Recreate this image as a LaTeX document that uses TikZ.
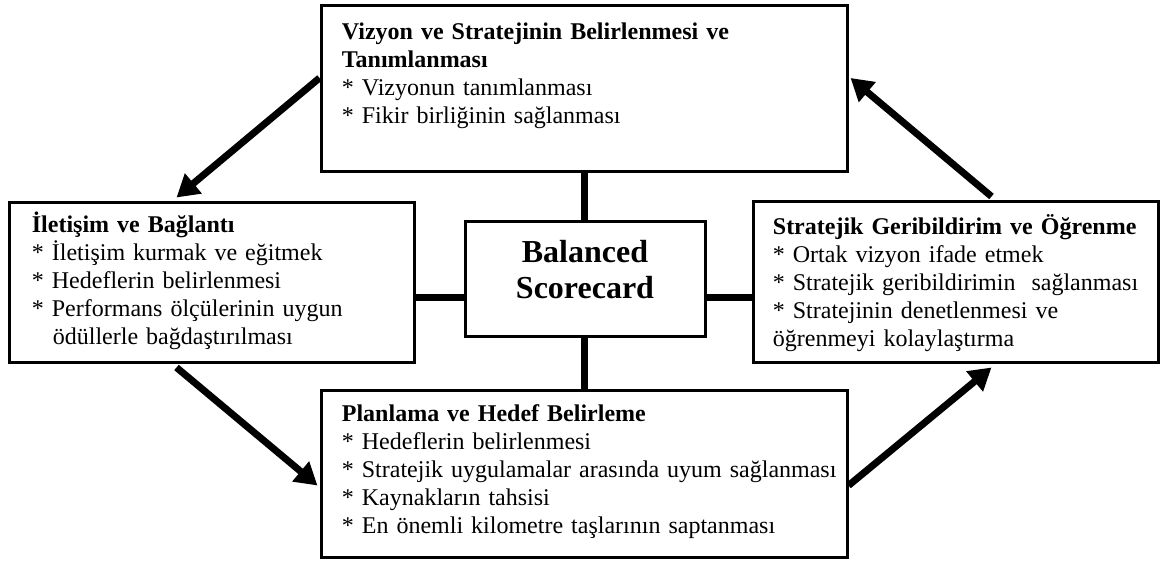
\documentclass[tikz,border=0pt]{standalone}
\usepackage{fontspec}
\setmainfont{Liberation Serif}
\usetikzlibrary{calc,arrows.meta}
\begin{document}
\begin{tikzpicture}[x=0.5pt,y=-0.5pt,
  box/.style={draw,line width=1.5pt,rectangle,inner sep=0pt},
  body/.style={anchor=base west,inner sep=0pt,align=left,
    font=\fontsize{12}{14}\selectfont},
  link/.style={line width=3.5pt},
  flow/.style={line width=3.5pt,-{Triangle[length=11pt,width=12.5pt]}}]
\useasboundingbox[fill=white] (0,0) rectangle (1161,561);

% the five boxes
\node[box,minimum width=263pt,minimum height=83pt]   (top)    at (584,89)     {};
\node[box,minimum width=202.5pt,minimum height=79.5pt] (left) at (211.5,282.5) {};
\node[box,minimum width=120pt,minimum height=57pt]   (bsc)    at (585,279)    {};
\node[box,minimum width=202.5pt,minimum height=80pt] (right)  at (955.5,282)  {};
\node[box,minimum width=263pt,minimum height=83.5pt] (bottom) at (584,473.5)  {};

% box contents
\node[body,text width=300pt] (topText) at ($(top.north west)+(22,35)$)
  {\textbf{Vizyon ve Stratejinin Belirlenmesi ve}\\
   \textbf{Tanımlanması}\\
   {*} Vizyonun tanımlanması\\
   {*} Fikir birliğinin sağlanması};

\node[body,text width=220pt] (leftText) at ($(left.north west)+(24,31)$)
  {\textbf{İletişim ve Bağlantı}\\
   {*} İletişim kurmak ve eğitmek\\
   {*} Hedeflerin belirlenmesi\\
   {*} Performans ölçülerinin uygun\\
   \hspace*{10.5pt}ödüllerle bağdaştırılması};

\node[body,text width=220pt] (rightText) at ($(right.north west)+(21,34)$)
  {\textbf{Stratejik Geribildirim ve Öğrenme}\\
   {*} Ortak vizyon ifade etmek\\
   {*} Stratejik geribildirimin\ \ sağlanması\\
   {*} Stratejinin denetlenmesi ve\\
   öğrenmeyi kolaylaştırma};

\node[body,text width=300pt] (bottomText) at ($(bottom.north west)+(22,33)$)
  {\textbf{Planlama ve Hedef Belirleme}\\
   {*} Hedeflerin belirlenmesi\\
   {*} Stratejik uygulamalar arasında uyum sağlanması\\
   {*} Kaynakların tahsisi\\
   {*} En önemli kilometre taşlarının saptanması};

\node[inner sep=0pt,align=center,font=\fontsize{16}{18}\selectfont\bfseries]
  (bscText) at ($(bsc.center)+(0,-9)$) {Balanced\\Scorecard};

% spokes from the centre box
\coordinate (hy) at (0,297);
\draw[link] (top.south) -- (top.south |- bsc.north);
\draw[link] (top.south |- bsc.south) -- (bottom.north);
\draw[link] (left.east |- hy) -- (bsc.west |- hy);
\draw[link] (bsc.east |- hy) -- (right.west |- hy);

% the cycle of arrows
\draw[flow] ($(top.west)+(0,-11)$) -- ($(left.north west)+(169,-4)$);
\draw[flow] ($(left.south west)+(169,4)$) -- ($(bottom.west)+(-2,12)$);
\draw[flow] ($(bottom.east)+(0,12)$) -- ($(right.south west)+(240,4)$);
\draw[flow] ($(right.north west)+(240,-4)$) -- ($(top.east)+(2,-11)$);
\end{tikzpicture}
\end{document}
